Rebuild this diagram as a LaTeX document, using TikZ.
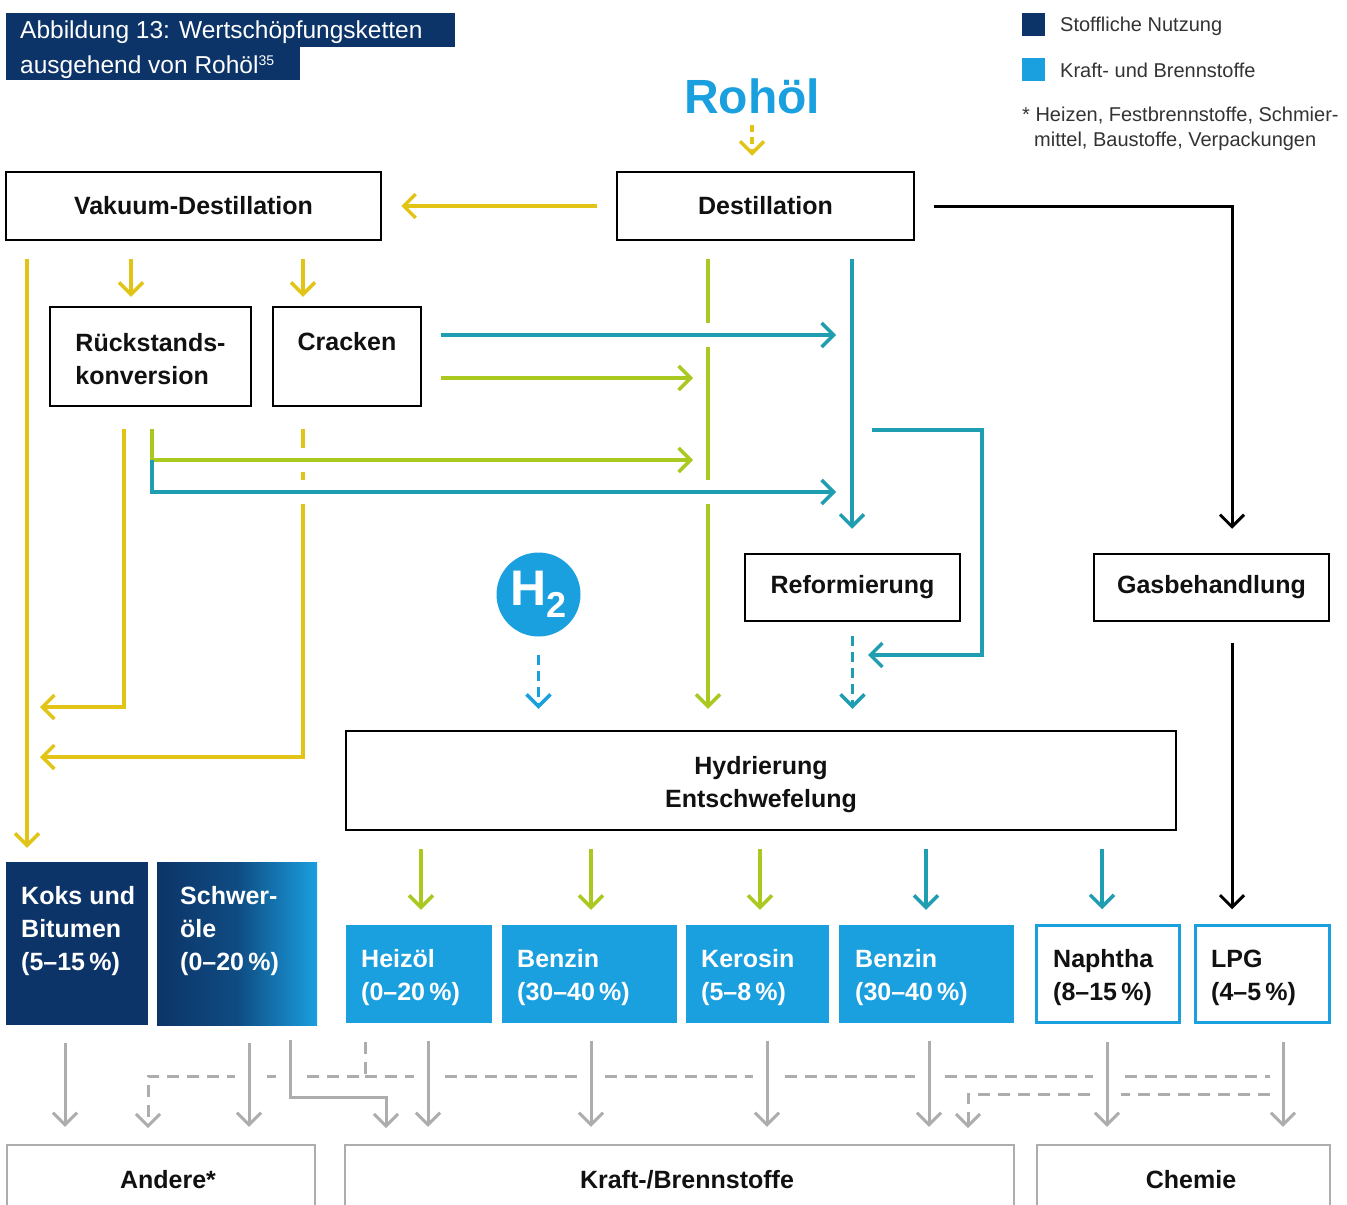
\documentclass[tikz,border=0pt]{standalone}
\usepackage{fontspec}
\setmainfont{Liberation Sans}
\usetikzlibrary{arrows.meta}
\definecolor{navy}{HTML}{0C3468}
\definecolor{lblue}{HTML}{1A9FDF}
\definecolor{ygold}{HTML}{E2C417}
\definecolor{lgreen}{HTML}{A9C820}
\definecolor{tealc}{HTML}{1F9DB1}
\definecolor{greyc}{HTML}{ADADAD}
\definecolor{legtext}{HTML}{333333}
\definecolor{ink}{HTML}{111111}
\tikzset{
  lbl/.style={font=\bfseries\fontsize{25}{33}\selectfont},
  procbox/.style={draw=black, line width=2.5pt, fill=white, inner sep=0pt, lbl, align=center, text=ink},
  prodbox/.style={fill=lblue, inner sep=0pt},
  chembox/.style={draw=lblue, line width=2.5pt, fill=white, inner sep=0pt},
  endbox/.style={draw=greyc, line width=2.5pt, fill=white, inner sep=0pt},
  endtext/.style={lbl, text=ink, inner sep=0pt},
  wtext/.style={lbl, text=white, align=left, inner sep=0pt, anchor=west},
  btext/.style={lbl, text=ink, align=left, inner sep=0pt, anchor=west},
  legtxt/.style={font=\fontsize{20}{25}\selectfont, text=legtext, inner sep=0pt, anchor=base west},
  tip/.style={-{Straight Barb[length=12pt,width=24pt]}},
  yl/.style={draw=ygold, line width=3.5pt},
  gl/.style={draw=lgreen, line width=3.5pt},
  tl/.style={draw=tealc, line width=3.5pt},
  bl/.style={draw=black, line width=3pt},
  gr/.style={draw=greyc, line width=3pt},
  grdash/.style={gr, dash pattern=on 12pt off 8pt},
}
\begin{document}
\begin{tikzpicture}[x=1pt,y=-1pt]
\useasboundingbox (0,0) rectangle (1347,1205);
\clip (0,0) rectangle (1347,1205);

% ---------- title ----------
\fill[navy] (6,13) rectangle (455,47);
\fill[navy] (6,46) rectangle (300,80);
\node[anchor=base west, inner sep=0pt, text=white, font=\fontsize{24.5}{30}\selectfont] (title1) at (20,38) {Abbildung 13: Wertschöpfungsketten};
\node[anchor=base west, inner sep=0pt, text=white, font=\fontsize{24.5}{30}\selectfont] (title2) at (20,73) {ausgehend von Rohöl\raisebox{8pt}{\fontsize{14}{14}\selectfont 35}};

% ---------- legend ----------
\node[fill=navy, minimum size=23pt, inner sep=0pt] (legsq1) at (1033.5,24.5) {};
\node[fill=lblue, minimum size=23pt, inner sep=0pt] (legsq2) at (1033.5,69.5) {};
\node[legtxt] (leg1) at (1060,31) {Stoffliche Nutzung};
\node[legtxt] (leg2) at (1060,77) {Kraft- und Brennstoffe};
\node[legtxt] (foot1) at (1022,121) {* Heizen, Festbrennstoffe, Schmier-};
\node[legtxt] (foot2) at (1034,146) {mittel, Baustoffe, Verpackungen};

% ---------- top ----------
\node[font=\bfseries\fontsize{48}{50}\selectfont, text=lblue, inner sep=0pt] (rohoel) at (752,96) {Rohöl};

\node[procbox, minimum width=375pt, minimum height=68pt] (vak) at (193.5,206) {Vakuum-Destillation};
\node[procbox, minimum width=297pt, minimum height=68pt] (destil) at (765.5,206) {Destillation};
\node[procbox, minimum width=201pt, minimum height=99pt] (rueck) at (150.5,356.5) {};
\node[lbl, text=ink, inner sep=0pt, align=left] (rueckT) at (150.5,359) {Rückstands-\\konversion};
\node[procbox, minimum width=148pt, minimum height=99pt] (crack) at (347,356.5) {};
\node[lbl, text=ink, inner sep=0pt] (crackT) at (347,342) {Cracken};
\node[procbox, minimum width=215pt, minimum height=67pt] (reform) at (852.5,587.5) {Reformierung};
\node[procbox, minimum width=235pt, minimum height=67pt] (gas) at (1211.5,587.5) {Gasbehandlung};
\node[procbox, minimum width=830pt, minimum height=99pt] (hydr) at (761,780.5) {};
\node[lbl, text=ink, inner sep=0pt, align=center] (hydrT) at (761,785) {Hydrierung\\Entschwefelung};

\node[circle, fill=lblue, minimum size=84pt, inner sep=0pt, text=white] (htwo) at (538.5,594.5)
  {\bfseries\fontsize{50}{50}\selectfont H\kern0pt\raisebox{-12pt}{\fontsize{36}{36}\selectfont 2}};

% ---------- product boxes ----------
\node[fill=navy, inner sep=0pt, minimum width=142pt, minimum height=163pt] (koks) at (77,943.5) {};
\node[wtext] (koksT) at (21,931) {Koks und\\Bitumen\\(5–15\,\%)};
\node[left color=navy, right color=lblue, middle color=navy!78!lblue, inner sep=0pt, minimum width=160pt, minimum height=163pt] (schwer) at (237,943.5) {};
\node[wtext] (schwerT) at (180,931) {Schwer-\\öle\\(0–20\,\%)};

\node[prodbox, minimum width=146pt, minimum height=98pt] (heiz) at (419,974) {};
\node[wtext] (heizT) at (361,978) {Heizöl\\(0–20\,\%)};
\node[prodbox, minimum width=175pt, minimum height=98pt] (benzA) at (589.5,974) {};
\node[wtext] (benzAT) at (517,978) {Benzin\\(30–40\,\%)};
\node[prodbox, minimum width=143pt, minimum height=98pt] (kero) at (757.5,974) {};
\node[wtext] (keroT) at (701,978) {Kerosin\\(5–8\,\%)};
\node[prodbox, minimum width=175pt, minimum height=98pt] (benzB) at (926.5,974) {};
\node[wtext] (benzBT) at (855,978) {Benzin\\(30–40\,\%)};
\node[chembox, minimum width=143pt, minimum height=97pt] (naph) at (1108,974) {};
\node[btext] (naphT) at (1053,978) {Naphtha\\(8–15\,\%)};
\node[chembox, minimum width=134pt, minimum height=97pt] (lpg) at (1262.5,974) {};
\node[btext] (lpgT) at (1211,978) {LPG\\(4–5\,\%)};

% ---------- end boxes ----------
\node[endbox, minimum width=308pt, minimum height=72pt] (andere) at (161,1181) {};
\node[endtext] (andereT) at (168,1180) {Andere*};
\node[endbox, minimum width=669pt, minimum height=72pt] (kraft) at (679.5,1181) {};
\node[endtext] (kraftT) at (687,1180) {Kraft-/Brennstoffe};
\node[endbox, minimum width=293pt, minimum height=72pt] (chemie) at (1183.5,1181) {};
\node[endtext] (chemieT) at (1191,1180) {Chemie};

% ---------- helper coordinates ----------
\coordinate (c27) at (27,0);   \coordinate (c131) at (131,0); \coordinate (c303) at (303,0);
\coordinate (c124) at (124,0); \coordinate (c152) at (152,0); \coordinate (c708) at (708,0);
\coordinate (c852) at (852,0); \coordinate (c1232) at (1232,0);
\coordinate (r335) at (0,335); \coordinate (r378) at (0,378);
\coordinate (y4e) at (40,707); \coordinate (y5e) at (40,757);
\coordinate (g1e) at (693,378); \coordinate (g2e) at (693,460);
\coordinate (t1e) at (836,335); \coordinate (t2s) at (152,460); \coordinate (t2e) at (836,492);
\coordinate (t4s) at (872,430); \coordinate (t4c) at (982,655); \coordinate (t4e) at (868,655);

% ---------- Rohöl arrow ----------
\draw[yl, tip, dash pattern=on 7pt off 5pt, shorten <=11pt, shorten >=15pt] (rohoel.south) -- (rohoel.south |- destil.north);

% ---------- verticals first ----------
\draw[yl, tip, shorten <=19pt, shorten >=19pt] (destil.west) -- (vak.east);
\draw[yl, tip, shorten <=18pt, shorten >=14pt] (vak.south -| c27) -- (koks.north -| c27);
\draw[yl, tip, shorten <=18pt, shorten >=9pt] (vak.south -| c131) -- (rueck.north -| c131);
\draw[yl, tip, shorten <=18pt, shorten >=9pt] (vak.south -| c303) -- (crack.north -| c303);
\draw[yl, tip, shorten <=22pt] (rueck.south -| c124) |- (y4e);
\draw[yl, tip, shorten <=22pt] (crack.south -| c303) |- (y5e);
\draw[gl, tip, shorten <=18pt, shorten >=21pt] (destil.south -| c708) -- (hydr.north -| c708);
\draw[tl, tip, shorten <=18pt, shorten >=24pt] (destil.south -| c852) -- (reform.north -| c852);

% knockouts at crossings
\foreach \x/\y in {708/335, 708/492, 303/460, 303/492}
  \fill[white] (\x-6,\y-12) rectangle (\x+6,\y+12);

% ---------- horizontals ----------
\draw[tl, tip, shorten <=19pt] (crack.east |- r335) -- (t1e);
\draw[gl, tip, shorten <=19pt] (crack.east |- r378) -- (g1e);
\draw[gl, tip, shorten <=22pt] (rueck.south -| c152) |- (g2e);
\draw[tl, tip] (t2s) |- (t2e);
\draw[tl, tip] (t4s) -| (t4c) -- (t4e);
\draw[tl, tip, dash pattern=on 10pt off 6pt, shorten <=14pt, shorten >=21pt] (reform.south) -- (hydr.north -| reform.south);
\draw[draw=lblue, line width=3.5pt, tip, dash pattern=on 10pt off 6pt, shorten <=18pt, shorten >=21pt] (htwo.south) -- (hydr.north -| htwo.south);

% ---------- black ----------
\draw[bl, tip, shorten <=19pt, shorten >=24pt] (destil.east) -| (gas.north -| c1232);
\draw[bl, tip, shorten <=21pt, shorten >=15pt] (gas.south -| c1232) -- (lpg.north -| c1232);

% ---------- hydrierung outputs ----------
\foreach \x/\c/\t in {421/lgreen/heiz, 591/lgreen/benzA, 760/lgreen/kero, 926/tealc/benzB, 1102/tealc/naph} {
  \coordinate (col) at (\x,0);
  \draw[draw=\c, line width=3.5pt, tip, shorten <=18pt, shorten >=15pt] (hydr.south -| col) -- (\t.north -| col);
}

% ---------- grey bottom ----------
\coordinate (d365) at (365,1042); \coordinate (d365b) at (365,1076);
\coordinate (dA) at (148,1128); \coordinate (dEnd) at (1270,1076);
\coordinate (eS) at (1270,1094); \coordinate (eE) at (968,1128);
\draw[grdash, tip] (d365) -- (d365b) -| (dA);
\draw[grdash] (d365b) -- (dEnd);
\draw[grdash, tip] (eS) -| (eE);

\foreach \x in {249, 290, 428, 591, 767, 929, 1107}
  \fill[white] (\x-14,1071) rectangle (\x+14,1081);
\fill[white] (1107-14,1089) rectangle (1107+14,1099);

\foreach \x/\s/\t in {65/koks/andere, 249/schwer/andere, 428/heiz/kraft, 591/benzA/kraft, 767/kero/kraft, 929/benzB/kraft, 1107/naph/chemie, 1283/lpg/chemie} {
  \coordinate (gcol) at (\x,0);
  \draw[gr, tip, shorten <=18pt, shorten >=17pt] (\s.south -| gcol) -- (\t.north -| gcol);
}
\coordinate (c290) at (290,0); \coordinate (k386) at (386,1097); \coordinate (k386e) at (386,1128);
\draw[gr, tip, shorten <=15pt] (schwer.south -| c290) |- (k386) -- (k386e);
\end{tikzpicture}
\end{document}
